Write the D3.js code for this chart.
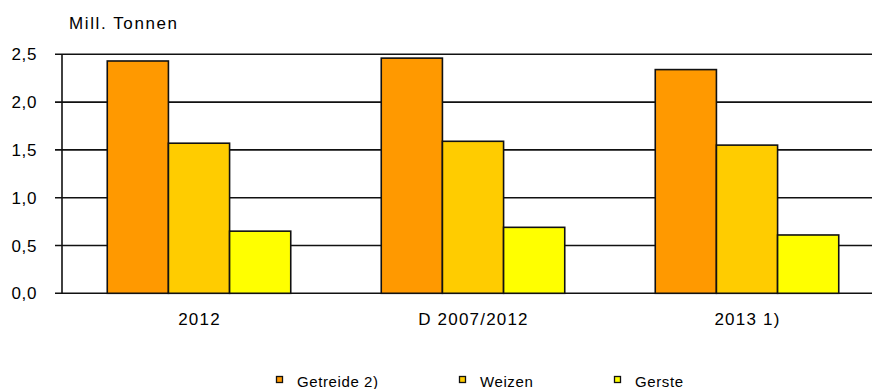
<!DOCTYPE html>
<html><head><meta charset="utf-8">
<script src="https://cdn.jsdelivr.net/npm/d3@7"></script>
<style>
body{margin:0;background:#fff;}
text{font-family:"Liberation Sans",Arial,sans-serif;fill:#000;}
</style></head>
<body><svg id="c" width="872" height="389"></svg>
<script>
const categories = ["2012", "D 2007/2012", "2013 1)"];
const seriesNames = ["Getreide 2)", "Weizen", "Gerste"];
const getreide = [2.43, 2.46, 2.34];
const weizen = [1.57, 1.59, 1.55];
const gerste = [0.65, 0.69, 0.61];
const yTicks = [0, 0.5, 1.0, 1.5, 2.0, 2.5];
const yTickLabels = ["0,0", "0,5", "1,0", "1,5", "2,0", "2,5"];
const colors = ["#FF9900", "#FFCC00", "#FFFF00"];
const unitLabel = "Mill. Tonnen";

const series = [getreide, weizen, gerste];
const svg = d3.select("#c");
const y = d3.scaleLinear().domain([0, 2.5]).range([293.3, 54.3]);
const x0 = d3.scaleBand().domain(categories).range([62, 884]).padding(0);
const x1 = d3.scaleBand().domain(seriesNames).range([0, x0.bandwidth()]).paddingInner(0).paddingOuter(0.74);

// gridlines
svg.append("g").selectAll("line").data(yTicks).join("line")
  .attr("x1", 55).attr("x2", 872)
  .attr("y1", d => y(d)).attr("y2", d => y(d))
  .attr("stroke", "#111").attr("stroke-width", 1.6);

// y axis line
svg.append("line").attr("x1", 62).attr("x2", 62).attr("y1", y(2.5)).attr("y2", y(0))
  .attr("stroke", "#111").attr("stroke-width", 1.6);

// y labels
svg.append("g").selectAll("text").data(yTicks).join("text")
  .attr("x", 37).attr("y", d => y(d) + 6)
  .attr("text-anchor", "end").attr("font-size", 17).attr("letter-spacing", 0.6)
  .text((d, i) => yTickLabels[i]);

// bars
const g = svg.append("g").selectAll("g").data(categories).join("g")
  .attr("transform", d => `translate(${x0(d)},0)`);
g.selectAll("rect").data((c, ci) => seriesNames.map((s, si) => ({s, si, v: series[si][ci]})))
  .join("rect")
  .attr("x", d => x1(d.s)).attr("width", x1.bandwidth())
  .attr("y", d => y(d.v)).attr("height", d => y(0) - y(d.v))
  .attr("fill", d => colors[d.si]).attr("stroke", "#111").attr("stroke-width", 1.6);

// category labels
svg.append("g").selectAll("text").data(categories).join("text")
  .attr("x", d => x0(d) + x0.bandwidth() / 2 + 0.5).attr("y", 325)
  .attr("text-anchor", "middle").attr("font-size", 17).attr("letter-spacing", 1.2)
  .text(d => d);

// unit label
svg.append("text").attr("x", 69).attr("y", 29).attr("font-size", 17).attr("letter-spacing", 1.6)
  .text(unitLabel);

// legend
const legX = [276, 459, 614];
const lg = svg.append("g").selectAll("g").data(seriesNames).join("g")
  .attr("transform", (d, i) => `translate(${legX[i]},0)`);
lg.append("rect").attr("x", 0.5).attr("y", 376.5).attr("width", 6).attr("height", 6)
  .attr("fill", (d, i) => colors[i]).attr("stroke", "#111").attr("stroke-width", 1.3);
lg.append("text").attr("x", 21).attr("y", 386.5).attr("font-size", 15).attr("letter-spacing", 0.6)
  .text(d => d);
</script></body></html>
